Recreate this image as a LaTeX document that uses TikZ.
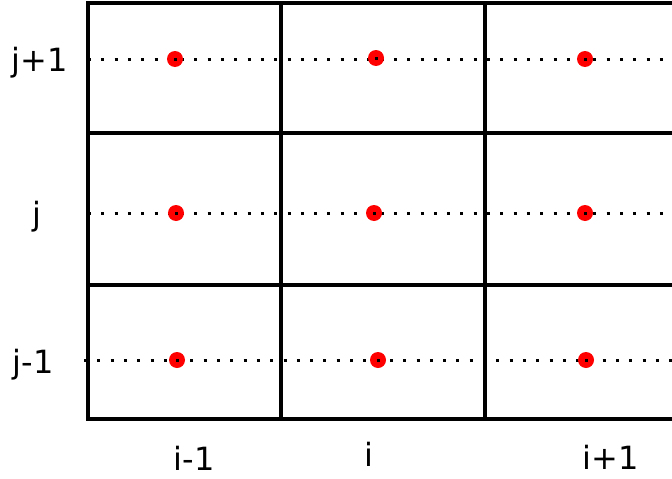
\documentclass[tikz,border=0pt]{standalone}
\usepackage{fontspec}
\setmainfont{DejaVu Sans}
\begin{document}
\begin{tikzpicture}[x=1pt,y=-1pt,
  gridline/.style={line width=3.3pt},
  dotline/.style={line width=3pt, dash pattern=on 3pt off 10.3pt},
  pt/.style={circle, fill=red, inner sep=0pt, minimum size=16pt},
  lab/.style={anchor=base, inner sep=0pt, font=\fontsize{32}{36}\selectfont}]
\useasboundingbox (0,0) rectangle (672,479);
% dotted rows
\coordinate (l1) at (88,59);  \coordinate (r1) at (672,59);
\coordinate (l2) at (88,213); \coordinate (r2) at (672,213);
\coordinate (l3) at (84,360); \coordinate (r3) at (672,360);
\draw[dotline] (l1) -- (r1);
\draw[dotline] (l2) -- (r2);
\draw[dotline] (l3) -- (r3);
% grid
\draw[gridline] (672,3) -- (88,3) -- (88,419) -- (672,419);
\draw[gridline] (88,133) -- (672,133);
\draw[gridline] (88,285) -- (672,285);
\draw[gridline] (281,3) -- (281,419);
\draw[gridline] (485,3) -- (485,419);
% red points
\node[pt] (a1) at (175,59) {};
\node[pt] (b1) at (376,58) {};
\node[pt] (c1) at (585,59) {};
\node[pt] (a2) at (176,213) {};
\node[pt] (b2) at (374,213) {};
\node[pt] (c2) at (585,213) {};
\node[pt] (a3) at (177,360) {};
\node[pt] (b3) at (378,360) {};
\node[pt] (c3) at (586,360) {};
% small black dots visible through red points
\foreach \p in {a1,b1,c1,a2,b2,c2,a3,b3,c3}
  \fill (\p.center) ++(-1.5,-1.5) rectangle ++(3,3);
% labels
\node[lab] (jp) at (40,71) {j+1};
\node[lab] (j)  at (37,225) {j};
\node[lab] (jm) at (33,373) {j-1};
\node[lab] (im) at (194,470) {i-1};
\node[lab] (i)  at (369,466) {i};
\node[lab] (ip) at (611,469) {i+1};
\end{tikzpicture}
\end{document}
